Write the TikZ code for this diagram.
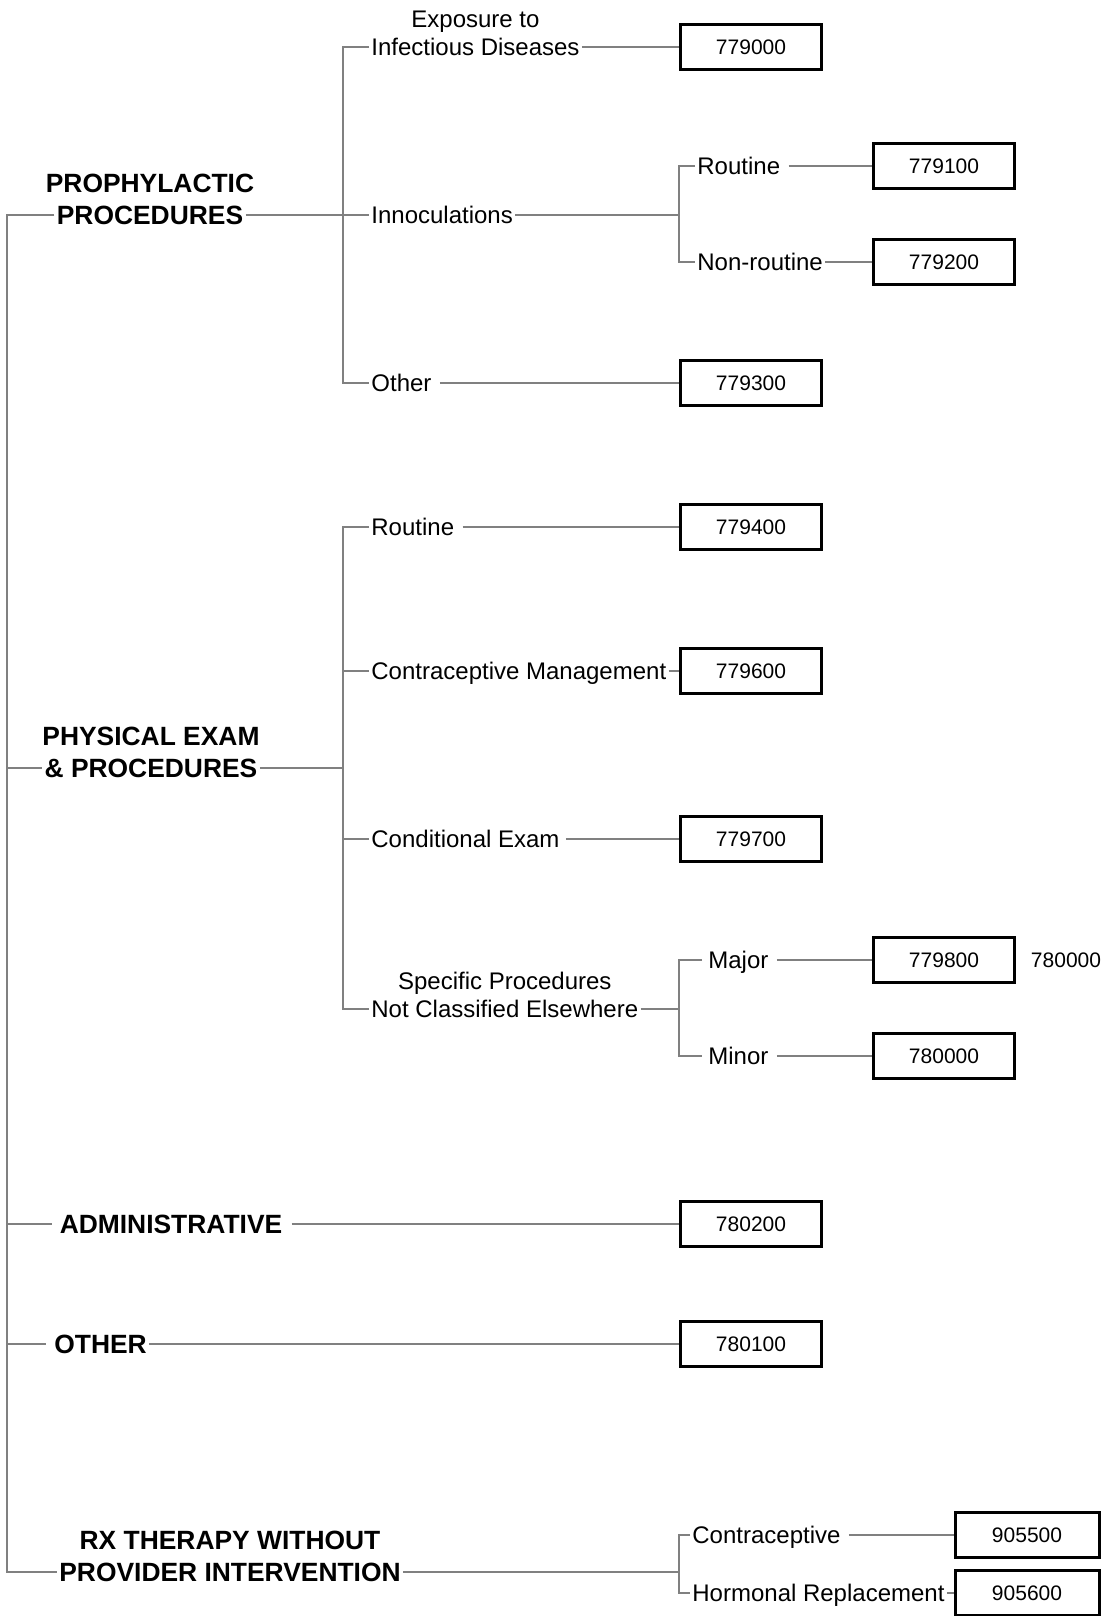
\documentclass[tikz,border=0pt]{standalone}
\usepackage{fontspec}
\setmainfont{Liberation Sans}

\begin{document}
\begin{tikzpicture}[x=0.5pt, y=-0.5pt,
    txt/.style={font=\fontsize{12}{14}\selectfont, inner sep=1pt, text height=8.6pt, text depth=0pt},
    cat/.style={font=\fontsize{13.2}{16}\selectfont\bfseries, inner sep=1pt, text height=9.5pt, text depth=0pt},
    code/.style={draw=black, line width=1.5pt, minimum width=70.5pt, minimum height=22.6pt, inner sep=0pt,
                 font=\fontsize{10.5}{12}\selectfont, text height=7.5pt, text depth=0pt},
    conn/.style={gray, line width=1pt}]
    \useasboundingbox (0,0) rectangle (1104,1616);

    % Main categories
    \node[cat] (proph) at (150,215) {PROCEDURES};
    \node[cat, anchor=base] (propha) at ([yshift=16pt]proph.base) {PROPHYLACTIC};
    \node[cat] (phys) at (151,768) {\& PROCEDURES};
    \node[cat, anchor=base] (physa) at ([yshift=16pt]phys.base) {PHYSICAL EXAM};
    \node[cat] (admin) at (172,1224) {\kern2.5pt ADMINISTRATIVE\kern3.5pt};
    \node[cat, anchor=west] (othr) at (46,1344) {\kern3pt OTHER};
    \node[cat] (rx) at (230,1572) {PROVIDER INTERVENTION};
    \node[cat, anchor=base] (rxa) at ([yshift=16pt]rx.base) {RX THERAPY WITHOUT};

    % Second level
    \node[txt, anchor=west] (expo) at (369,47) {Infectious Diseases};
    \node[txt, anchor=base] (expoa) at ([yshift=14pt]expo.base) {Exposure to};
    \node[txt, anchor=west] (inno) at (369,215) {Innoculations};
    \node[txt, anchor=west] (othp) at (369,383) {Other\kern3pt};
    \node[txt, anchor=west] (rout) at (369,527) {Routine\kern3pt};
    \node[txt, anchor=west] (contra) at (369,671) {Contraceptive Management};
    \node[txt, anchor=west] (cond) at (369,839) {Conditional Exam\kern2pt};
    \node[txt, anchor=west] (spec) at (369,1009) {Not Classified Elsewhere};
    \node[txt, anchor=base] (speca) at ([yshift=14pt]spec.base) {Specific Procedures};

    % Third level
    \node[txt, anchor=west] (rtn) at (695,166) {Routine\kern3pt};
    \node[txt, anchor=west] (nonr) at (695,262) {Non-routine};
    \node[txt, anchor=west] (major) at (702,960) {\kern2pt Major\kern3pt};
    \node[txt, anchor=west] (minor) at (702,1056) {\kern2pt Minor\kern3pt};
    \node[txt, anchor=west] (ctp) at (690,1535) {Contraceptive\kern3pt};
    \node[txt, anchor=west] (horm) at (690,1593) {Hormonal Replacement};

    % Codes
    \node[code] (b779000) at (751,47) {779000};
    \node[code] (b779100) at (944,166) {779100};
    \node[code] (b779200) at (944,262) {779200};
    \node[code] (b779300) at (751,383) {779300};
    \node[code] (b779400) at (751,527) {779400};
    \node[code] (b779600) at (751,671) {779600};
    \node[code] (b779700) at (751,839) {779700};
    \node[code] (b779800) at (944,960) {779800};
    \node[txt, font=\fontsize{10.5}{12}\selectfont, text height=7.5pt] (x780000) at (1066,960) {780000};
    \node[code] (b780000) at (944,1056) {780000};
    \node[code] (b780200) at (751,1224) {780200};
    \node[code] (b780100) at (751,1344) {780100};
    \node[code, minimum width=72pt] (b905500) at (1027,1535) {905500};
    \node[code, minimum width=72pt] (b905600) at (1027,1593) {905600};

    % Root branch
    \coordinate (root) at (7,215);
    \draw[conn] (proph.west) -- (root) |- (rx.west);
    \draw[conn] (root |- phys.west) -- (phys.west);
    \draw[conn] (root |- admin.west) -- (admin.west);
    \draw[conn] (root |- othr.west) -- (othr.west);

    % Prophylactic branch
    \coordinate (pj) at (343,215);
    \draw[conn] (proph.east) -- (inno.west);
    \draw[conn] (expo.west) -| (pj) |- (othp.west);
    \coordinate (ij) at (679,215);
    \draw[conn] (inno.east) -- (ij);
    \draw[conn] (rtn.west) -| (ij) |- (nonr.west);

    % Physical exam branch
    \coordinate (xj) at (343,768);
    \draw[conn] (phys.east) -- (xj);
    \draw[conn] (rout.west) -| (xj) |- (spec.west);
    \draw[conn] (xj |- contra.west) -- (contra.west);
    \draw[conn] (xj |- cond.west) -- (cond.west);
    \coordinate (sj) at (679,1009);
    \draw[conn] (spec.east) -- (sj);
    \draw[conn] (major.west) -| (sj) |- (minor.west);

    % Rx branch
    \coordinate (rj) at (679,1572);
    \draw[conn] (rx.east) -- (rj);
    \draw[conn] (ctp.west) -| (rj) |- (horm.west);

    % Lines to codes
    \draw[conn] (expo.east) -- (b779000.west);
    \draw[conn] (rtn.east) -- (b779100.west);
    \draw[conn] (nonr.east) -- (b779200.west);
    \draw[conn] (othp.east) -- (b779300.west);
    \draw[conn] (rout.east) -- (b779400.west);
    \draw[conn] (contra.east) -- (b779600.west);
    \draw[conn] (cond.east) -- (b779700.west);
    \draw[conn] (major.east) -- (b779800.west);
    \draw[conn] (minor.east) -- (b780000.west);
    \draw[conn] (admin.east) -- (b780200.west);
    \draw[conn] (othr.east) -- (b780100.west);
    \draw[conn] (ctp.east) -- (b905500.west);
    \draw[conn] (horm.east) -- (b905600.west);
\end{tikzpicture}
\end{document}
